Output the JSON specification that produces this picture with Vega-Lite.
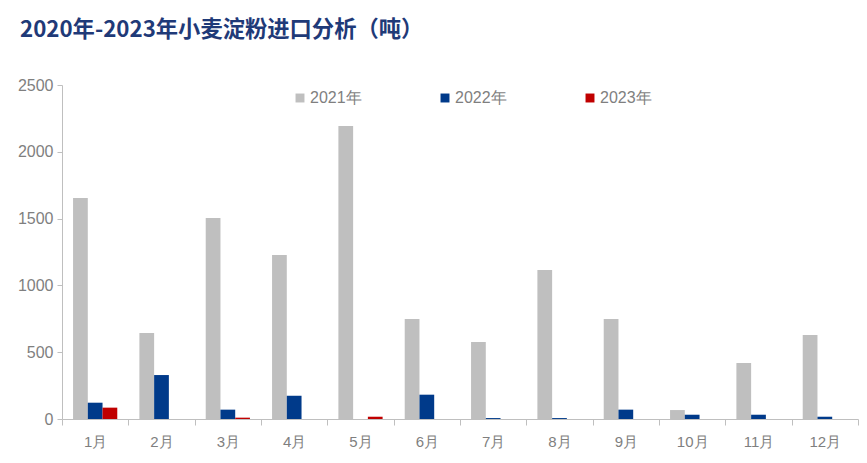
{
  "$schema": "https://vega.github.io/schema/vega-lite/v6.json",
  "width": 796,
  "height": 334,
  "autosize": "none",
  "padding": {"left": 62, "top": 85, "right": 9, "bottom": 44},
  "background": "white",
  "config": {"view": {"stroke": null}, "font": "Liberation Sans"},
  "title": {
    "text": "2020年-2023年小麦淀粉进口分析（吨）",
    "anchor": "start",
    "frame": "group",
    "dx": -42,
    "offset": 36,
    "font": "Noto Sans CJK SC",
    "fontSize": 22.3,
    "fontWeight": "bold",
    "color": "#1F3A78"
  },
  "data": {
    "values": [
      {"month": "1月", "year": "2021年", "value": 1654},
      {"month": "1月", "year": "2022年", "value": 122},
      {"month": "1月", "year": "2023年", "value": 85},
      {"month": "2月", "year": "2021年", "value": 644},
      {"month": "2月", "year": "2022年", "value": 329},
      {"month": "3月", "year": "2021年", "value": 1504},
      {"month": "3月", "year": "2022年", "value": 70},
      {"month": "3月", "year": "2023年", "value": 10},
      {"month": "4月", "year": "2021年", "value": 1228},
      {"month": "4月", "year": "2022年", "value": 174},
      {"month": "5月", "year": "2021年", "value": 2193},
      {"month": "5月", "year": "2022年", "value": 0},
      {"month": "5月", "year": "2023年", "value": 17},
      {"month": "6月", "year": "2021年", "value": 749},
      {"month": "6月", "year": "2022年", "value": 182},
      {"month": "7月", "year": "2021年", "value": 576},
      {"month": "7月", "year": "2022年", "value": 7},
      {"month": "8月", "year": "2021年", "value": 1115},
      {"month": "8月", "year": "2022年", "value": 7},
      {"month": "9月", "year": "2021年", "value": 749},
      {"month": "9月", "year": "2022年", "value": 70},
      {"month": "10月", "year": "2021年", "value": 67},
      {"month": "10月", "year": "2022年", "value": 32},
      {"month": "11月", "year": "2021年", "value": 419},
      {"month": "11月", "year": "2022年", "value": 32},
      {"month": "12月", "year": "2021年", "value": 629},
      {"month": "12月", "year": "2022年", "value": 17}
    ]
  },
  "mark": {"type": "bar"},
  "encoding": {
    "x": {
      "field": "month",
      "type": "nominal",
      "sort": ["1月","2月","3月","4月","5月","6月","7月","8月","9月","10月","11月","12月"],
      "scale": {"paddingInner": 0, "paddingOuter": 0},
      "axis": {
        "title": null,
        "labelAngle": 0,
        "labelFontSize": 15,
        "labelColor": "#7F7F7F",
        "labelPadding": 9,
        "domainColor": "#BFBFBF",
        "tickColor": "#BFBFBF",
        "tickSize": 6,
        "tickBand": "extent",
        "grid": false
      }
    },
    "xOffset": {
      "field": "year",
      "type": "nominal",
      "scale": {"domain": ["2021年", "2022年", "2023年"], "paddingInner": 0, "paddingOuter": 0.75}
    },
    "y": {
      "field": "value",
      "type": "quantitative",
      "scale": {"domain": [0, 2500], "nice": false},
      "axis": {
        "title": null,
        "values": [0, 500, 1000, 1500, 2000, 2500],
        "format": "d",
        "labelFontSize": 16,
        "labelColor": "#7F7F7F",
        "labelPadding": 4,
        "domainColor": "#BFBFBF",
        "tickColor": "#BFBFBF",
        "tickSize": 5,
        "grid": false
      }
    },
    "color": {
      "field": "year",
      "type": "nominal",
      "scale": {"domain": ["2021年", "2022年", "2023年"], "range": ["#BFBFBF", "#003A8A", "#C00000"]},
      "legend": {
        "title": null,
        "orient": "none",
        "direction": "horizontal",
        "legendX": 230,
        "legendY": 5,
        "symbolType": "square",
        "symbolSize": 80,
        "symbolStrokeWidth": 0,
        "labelFontSize": 16,
        "labelColor": "#7F7F7F",
        "labelOffset": 2,
        "columnPadding": 75
      }
    }
  }
}
